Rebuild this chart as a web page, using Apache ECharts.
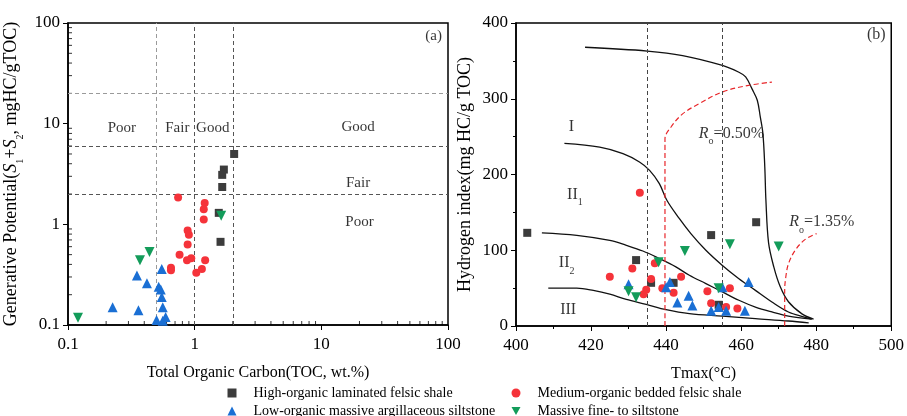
<!DOCTYPE html>
<html><head><meta charset="utf-8">
<script src="https://cdn.jsdelivr.net/npm/echarts@6/dist/echarts.min.js"></script>
<style>html,body{margin:0;padding:0;background:#fff}#c{width:907px;height:416px}</style>
</head><body><div id="c"></div>
<script>
// ---------- names ----------
const seriesNames = [
  'High-organic laminated felsic shale',
  'Medium-organic bedded felsic shale',
  'Low-organic massive argillaceous siltstone',
  'Massive fine- to siltstone'
];
// ---------- panel (a): TOC vs S1+S2 ----------
const tocHigh = [[2.05,5.0],[1.7,3.5],[1.65,3.1],[1.65,2.35],[1.55,1.3],[1.6,0.67]];
const tocMedium = [[0.74,1.85],[1.2,1.63],[1.18,1.41],[1.18,1.12],[0.88,0.87],[0.9,0.79],[0.88,0.63],[0.76,0.5],[0.94,0.46],[0.87,0.44],[1.21,0.44],[0.65,0.37],[0.65,0.35],[1.14,0.36],[1.03,0.33]];
const tocLow = [[0.55,0.36],[0.35,0.31],[0.42,0.26],[0.52,0.24],[0.54,0.225],[0.55,0.19],[0.225,0.15],[0.56,0.15],[0.36,0.14],[0.5,0.112],[0.59,0.12],[0.56,0.11]];
const tocMassive = [[1.62,1.22],[0.44,0.53],[0.37,0.44],[0.12,0.118]];
const tocBounds = [0.5, 1, 2];
const potBounds = [2, 6, 20];
const logMinor = [0.2,0.3,0.4,0.5,0.6,0.7,0.8,0.9,2,3,4,5,6,7,8,9,20,30,40,50,60,70,80,90];
const annotA = [
  {name:'Poor', value:[0.266,9.1]}, {name:'Fair', value:[0.73,9.1]}, {name:'Good', value:[1.39,9.1]},
  {name:'Good', value:[19.5,9.3]}, {name:'Fair', value:[19.5,2.55]}, {name:'Poor', value:[20,1.05]},
  {name:'(a)', value:[77,74]}
];
// ---------- panel (b): Tmax vs HI ----------
const hiHigh = [[403,123],[432,87],[436,57],[442,57],[452,120],[454,28],[464,137]];
const hiMedium = [[433,176],[431,76],[425,65],[437,83],[436,62],[434.7,48],[434,42],[439,50],[444,65],[442,44],[451,46],[457,50],[452,30],[456,25],[459,23]];
const hiLow = [[430,55],[440,51],[441,58],[443,31],[446,40],[447,27],[462,58],[455,51],[452,20],[454,25],[456,20],[461,20]];
const hiMassive = [[430,46],[432,38],[438,84],[445,99],[457,108],[470,105],[454,50]];
const curveI = [[418.4,368],[435,363],[444.4,357],[455,344],[459.4,335],[461.2,329],[462.9,313],[464.3,298],[465.1,276],[465.8,254],[466.3,210],[466.6,166],[467.3,110],[468.7,78],[470.4,52],[472.6,32],[476.2,16],[479.3,9]];
const curveII1 = [[412.9,241],[422.3,236],[428.5,227.5],[432.9,216.5],[435.6,205.5],[438.2,188],[440.2,166],[443.5,142],[446.6,122],[450.6,100],[455,80],[459.4,62.5],[463.8,47],[468.2,31.7],[472.6,18.5],[476.6,12],[478.8,9.2]];
const curveII2 = [[406.9,123],[416.2,119.7],[425,113],[429.4,106.5],[433.8,99],[438.2,89],[442.6,78],[446.2,67],[450.6,56],[455,45],[459.4,34],[463.8,25],[468.2,18.5],[472.6,13],[478.8,9]];
const curveIII = [[408.6,50],[416.2,50],[420.6,47],[425,42],[429.4,35],[434.7,28.6],[440,21.6],[446.2,16.3],[455,13],[463.8,9.7],[472.6,6.6],[478,4]];
const ro050 = [[439.7,0],[439.7,247],[441.3,262.7],[444.4,280],[448.8,293.5],[455,309],[462,317.7],[468.2,322]];
const ro135 = [[471.6,0],[471.6,47],[471.9,64.7],[472.6,82],[474.4,100],[477,114],[480.1,122]];
const tmaxBounds = [435, 455];
const annotB = [
  {name:'I', value:[414.8,262.7]}, {name:'II{sub|1}', value:[415.7,173.6]},
  {name:'II{sub|2}', value:[413.5,82.8]}, {name:'III', value:[413.9,22]},
  {name:'{i|R}{sub|o}=0.50%', value:[457.4,254]}, {name:'{i|R}{sub|o}=1.35%', value:[481.5,137]},
  {name:'(b)', value:[496,384]}
];

// ---------- styles ----------
const FONT = 'Liberation Serif';
const colors = ['#3c3c3c', '#f5333a', '#1a6fd4', '#139c5a'];
const symbols = ['rect', 'circle', 'triangle', 'path://M0,0 L10,0 L5,9 Z'];
const sizes = [8, 8, 10, 10];
const richSub = {
  sub: {fontSize: 10, fontFamily: FONT, verticalAlign: 'bottom', padding: [0,0,-5,0]},
  i: {fontStyle: 'italic', fontFamily: FONT}
};

function scatter(name, data, idx, k) {
  return {
    type: 'scatter', name: name, data: data, xAxisIndex: k, yAxisIndex: k,
    symbol: symbols[idx], symbolSize: sizes[idx], itemStyle: {color: colors[idx], opacity: 1},
    z: 5
  };
}
function curve(data, red) {
  return {
    type: 'line', data: data, xAxisIndex: 1, yAxisIndex: 1, showSymbol: false, symbol: 'none',
    smooth: 0.35, silent: true, z: 3,
    lineStyle: red ? {color: '#e8262a', width: 1.2, type: [5, 3]} : {color: '#111', width: 1.3}
  };
}
function annot(data, k, size) {
  return {
    type: 'scatter', data: data, xAxisIndex: k, yAxisIndex: k, symbolSize: 0, silent: true, z: 6,
    label: {show: true, position: 'inside', formatter: p => p.name, color: '#000',
      fontFamily: FONT, fontSize: size, rich: richSub}
  };
}
function axisBase() {
  return {
    axisLine: {show: true, onZero: false, lineStyle: {color: '#000', width: 1.5}},
    axisTick: {show: true, inside: false, length: 5, lineStyle: {color: '#000', width: 1}},
    axisLabel: {color: '#000', fontFamily: FONT, fontSize: 17},
    splitLine: {show: false},
    nameLocation: 'middle',
    nameTextStyle: {color: '#000', fontFamily: FONT, fontSize: 16, rich: richSub}
  };
}
function legendBox(names, left) {
  return {
    data: names, orient: 'vertical', left: left, top: 386, height: 40, padding: 0,
    itemWidth: 9, itemHeight: 9, itemGap: 4, selectedMode: false, symbolKeepAspect: true,
    textStyle: {fontFamily: FONT, fontSize: 14, color: '#000', lineHeight: 14, padding: [0, 0, 0, 12]}
  };
}

const chart = echarts.init(document.getElementById('c'), null, {renderer: 'canvas'});
const option = {
  animation: false,
  backgroundColor: '#fff',
  grid: [
    {left: 68, top: 23, right: 459, bottom: 91, show: true, borderColor: '#000', borderWidth: 1.5, backgroundColor: 'transparent'},
    {left: 516, top: 23, right: 14, bottom: 90, show: true, borderColor: '#000', borderWidth: 1.5, backgroundColor: 'transparent'}
  ],
  xAxis: [
    Object.assign(axisBase(), {type: 'log', logBase: 10, min: 0.1, max: 100, gridIndex: 0,
      name: 'Total Organic Carbon(TOC, wt.%)', nameGap: 40,
      axisLabel: {color: '#000', fontFamily: FONT, fontSize: 17, margin: 11}}),
    Object.assign(axisBase(), {type: 'value', min: 400, max: 500, interval: 20, gridIndex: 1,
      name: 'Tmax(°C)', nameGap: 40,
      minorTick: {show: true, splitNumber: 2, length: 3, lineStyle: {color: '#000'}},
      axisLabel: {color: '#000', fontFamily: FONT, fontSize: 17, margin: 11}})
  ],
  yAxis: [
    Object.assign(axisBase(), {type: 'log', logBase: 10, min: 0.1, max: 100, gridIndex: 0,
      name: 'Generative Potential({i|S}{sub|1}+{i|S}{sub|2}, mgHC/gTOC)', nameGap: 48,
      nameTextStyle: {color: '#000', fontFamily: FONT, fontSize: 18, rich: richSub},
      axisLabel: {color: '#000', fontFamily: FONT, fontSize: 17, margin: 8}}),
    Object.assign(axisBase(), {type: 'value', min: 0, max: 400, interval: 100, gridIndex: 1,
      name: 'Hydrogen index(mg HC/g TOC)', nameGap: 42,
      nameTextStyle: {color: '#000', fontFamily: FONT, fontSize: 18},
      minorTick: {show: true, splitNumber: 2, length: 3, lineStyle: {color: '#000'}},
      axisLabel: {color: '#000', fontFamily: FONT, fontSize: 17, margin: 8}})
  ],
  legend: [
    legendBox([seriesNames[0], seriesNames[2]], 227.5),
    legendBox([seriesNames[1], seriesNames[3]], 511.5)
  ],
  series: [
    // panel (a) decorations
    {type: 'scatter', xAxisIndex: 0, yAxisIndex: 0, silent: true, z: 2,
      data: logMinor.map(v => [v, 0.1]), symbol: 'rect', symbolSize: [1, 4], symbolOffset: [0, -2],
      itemStyle: {color: '#000'},
      markLine: {silent: true, symbol: 'none', label: {show: false}, animation: false,
        data: tocBounds.map((v, i) => ({xAxis: v, lineStyle: {color: i === 0 ? '#9a9a9a' : '#555', type: [4, 3], width: 1}}))
          .concat(potBounds.map((v, i) => ({yAxis: v, lineStyle: {color: i === 2 ? '#9a9a9a' : '#555', type: [4, 3], width: 1}})))}},
    {type: 'scatter', xAxisIndex: 0, yAxisIndex: 0, silent: true, z: 2,
      data: logMinor.map(v => [0.1, v]), symbol: 'rect', symbolSize: [4, 1], symbolOffset: [2, 0],
      itemStyle: {color: '#000'}},
    annot(annotA, 0, 15),
    scatter(seriesNames[0], tocHigh, 0, 0),
    scatter(seriesNames[1], tocMedium, 1, 0),
    scatter(seriesNames[2], tocLow, 2, 0),
    scatter(seriesNames[3], tocMassive, 3, 0),
    // panel (b)
    Object.assign(curve(curveI, false), {
      markLine: {silent: true, symbol: 'none', label: {show: false}, animation: false,
        lineStyle: {color: '#444', type: [4, 3], width: 1},
        data: tmaxBounds.map(v => ({xAxis: v}))}}),
    curve(curveII1, false),
    curve(curveII2, false),
    curve(curveIII, false),
    curve(ro050, true),
    curve(ro135, true),
    annot(annotB, 1, 16),
    scatter(seriesNames[0], hiHigh, 0, 1),
    scatter(seriesNames[1], hiMedium, 1, 1),
    scatter(seriesNames[2], hiLow, 2, 1),
    scatter(seriesNames[3], hiMassive, 3, 1)
  ]
};
chart.setOption(option);
</script></body></html>
